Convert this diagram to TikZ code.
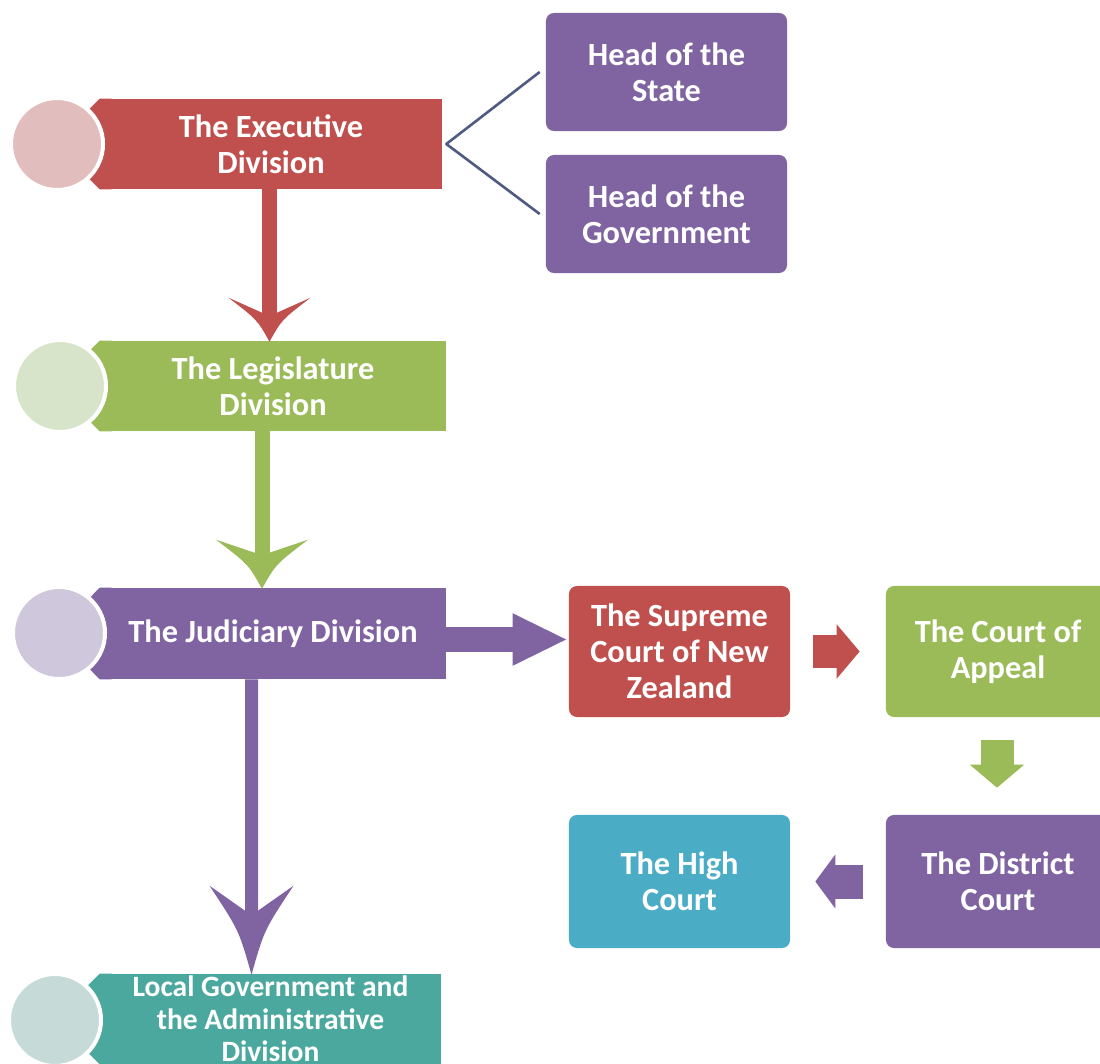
\documentclass[tikz,border=0pt]{standalone}
\usepackage{fontspec}
\setmainfont{Carlito}
\usetikzlibrary{calc,arrows.meta}
\definecolor{cred}{HTML}{C0504D}
\definecolor{cgreen}{HTML}{9BBB59}
\definecolor{cpurple}{HTML}{8064A2}
\definecolor{cteal}{HTML}{4BA89E}
\definecolor{cblue}{HTML}{4BACC6}
\definecolor{cpink}{HTML}{E2BDBD}
\definecolor{clgreen}{HTML}{D8E4CA}
\definecolor{clpurple}{HTML}{CFC7DB}
\definecolor{clteal}{HTML}{C6DBD8}
\definecolor{cline}{HTML}{4F5B80}
% color, tip coordinate, half width, length, inset, shaft half width
\newcommand\bighead[6]{%
  \fill[#1] (#2) .. controls ($(#2)+(-0.3*#3,-0.5*#4)$) .. ($(#2)+(-#3,-#4)$)
    -- ($(#2)+(-#6,-#4+#5)$) -- ($(#2)+(#6,-#4+#5)$) -- ($(#2)+(#3,-#4)$)
    .. controls ($(#2)+(0.3*#3,-0.5*#4)$) .. (#2) -- cycle;}
% color, node name
\newcommand\bannertip[2]{%
  \fill[#1] ($(#2.north west)+(12,0)$) -- (#2.north west) -- ($(#2.west)+(-45,0)$)
    -- (#2.south west) -- ($(#2.south west)+(12,0)$) -- cycle;}
\begin{document}
\begin{tikzpicture}[x=0.025cm,y=-0.025cm,
  txt/.style={text=white, font=\fontsize{23}{25.5}\selectfont\bfseries, align=center},
  banner/.style={txt, fill=#1, inner sep=0pt, minimum height=2.25cm},
  box/.style={txt, fill=#1, rounded corners=0.2cm, inner sep=0pt},
  disc/.style={circle, fill=#1, draw=white, line width=0.1cm, minimum size=2.3cm, inner sep=0pt},
  bracket/.style={draw=cline, line width=0.065cm, line join=round}]
\useasboundingbox (0,0) rectangle (1100,1064);
\clip (0,0) rectangle (1100,1064);
\fill[white] (0,0) rectangle (1100,1064);

% banners
\node[banner=cred, minimum width=8.55cm] (ex) at (271,144) {The Executive\\Division};
\node[banner=cgreen, minimum width=8.65cm] (leg) at (273,386) {The Legislature\\Division};
\node[banner=cpurple, minimum width=8.65cm, minimum height=2.275cm] (jud) at (273,633.5) {The Judiciary Division};
\node[banner=cteal, minimum width=8.525cm, font=\fontsize{21}{23.2}\selectfont\bfseries] (loc) at (270.5,1019) {Local Government and\\the Administrative\\Division};

% banner tips (behind discs)
\bannertip{cred}{ex}
\bannertip{cgreen}{leg}
\bannertip{cpurple}{jud}
\bannertip{cteal}{loc}

% discs
\node[disc=cpink] (d1) at (57,144) {};
\node[disc=clgreen] (d2) at (60,386) {};
\node[disc=clpurple] (d3) at (59,633) {};
\node[disc=clteal] (d4) at (55,1020) {};

% right boxes
\node[box=cpurple, minimum width=6.025cm, minimum height=2.95cm] (hos) at (666.5,72) {Head of the\\State};
\node[box=cpurple, minimum width=6.025cm, minimum height=2.95cm] (hog) at (666.5,214) {Head of the\\Government};
\node[box=cred, minimum width=5.525cm, minimum height=3.275cm] (sup) at (679.5,651.5) {The Supreme\\Court of New\\Zealand};
\node[box=cgreen, minimum width=5.6cm, minimum height=3.275cm] (app) at (998,651.5) {The Court of\\Appeal};
\node[box=cpurple, minimum width=5.6cm, minimum height=3.325cm] (dist) at (998,881.5) {The District\\Court};
\node[box=cblue, minimum width=5.525cm, minimum height=3.325cm] (high) at (679.5,881.5) {The High\\Court};

% bracket
\draw[bracket] ($(hos.west)+(-6,0)$) -- ($(ex.east)+(4,0)$) -- ($(hog.west)+(-6,0)$);

% big vertical arrows
\coordinate (rt) at ($(leg.north)+(-3.5,1)$);
\draw[cred, line width=0.375cm] ($(ex.south)+(-1.5,0)$) -- ($(rt)+(0,-25)$);
\bighead{cred}{rt}{41}{44}{15}{7.5}

\coordinate (gt) at ($(jud.north)+(-11,1)$);
\draw[cgreen, line width=0.375cm] ($(leg.south)+(-11,0)$) -- ($(gt)+(0,-30)$);
\bighead{cgreen}{gt}{46}{49}{13}{7.5}

\coordinate (pt) at ($(loc.north)+(-19,1)$);
\draw[cpurple, line width=0.325cm] ($(jud.south)+(-21.5,0)$) -- ($(pt)+(0,-50)$);
\bighead{cpurple}{pt}{42}{89}{25}{6.5}

% block arrows
\draw[cpurple, line width=0.6cm, -{Triangle[length=1.375cm, width=1.2cm]}]
  ($(jud.east)+(0,6)$) -- ($(sup.west)+(-1,-12)$);
\draw[cred, line width=0.825cm, -{Triangle[length=0.575cm, width=1.325cm]}]
  ($(sup.east)+(23,0)$) -- ($(app.west)+(-26,0)$);
\draw[cgreen, line width=0.825cm, -{Triangle[length=0.575cm, width=1.325cm]}]
  ($(app.south)+(-1,23)$) -- ($(dist.north)+(-1,-27)$);
\draw[cpurple, line width=0.85cm, -{Triangle[length=0.5cm, width=1.325cm]}]
  ($(dist.west)+(-23,0)$) -- ($(high.east)+(25,0)$);
\end{tikzpicture}
\end{document}
